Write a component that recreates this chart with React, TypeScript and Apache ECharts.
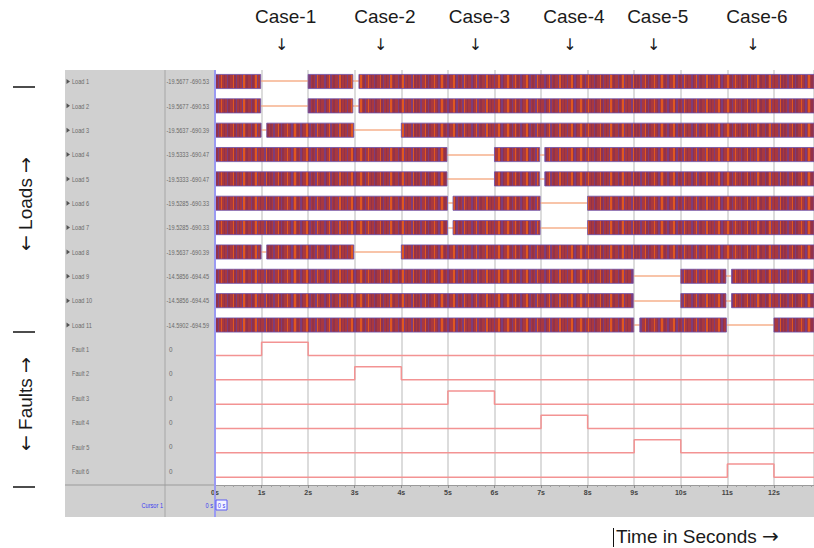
import React, { useEffect, useRef } from "react";
import * as echarts from "echarts";

// ---------- data ----------
const T_MAX = 12.86;

const loadNames = ["Load 1", "Load 2", "Load 3", "Load 4", "Load 5", "Load 6", "Load 7", "Load 8", "Load 9", "Load 10", "Load 11"];
const loadReadouts = [
  "-19.5677 -690.53",
  "-19.5677 -690.53",
  "-19.5637 -690.39",
  "-19.5333 -690.47",
  "-19.5333 -690.47",
  "-19.5285 -690.33",
  "-19.5285 -690.33",
  "-19.5637 -690.39",
  "-14.5856 -694.45",
  "-14.5856 -694.45",
  "-14.5902 -694.59",
];
// time intervals (s) during which each load is energised
const loadOnIntervals: number[][][] = [
  [[0, 0.98], [2.0, 2.96], [3.09, T_MAX]],
  [[0, 0.98], [2.0, 2.96], [3.09, T_MAX]],
  [[0, 0.99], [1.11, 2.98], [4.0, T_MAX]],
  [[0, 4.98], [6.0, 6.97], [7.08, T_MAX]],
  [[0, 4.98], [6.0, 6.97], [7.08, T_MAX]],
  [[0, 4.99], [5.11, 6.98], [8.0, T_MAX]],
  [[0, 4.99], [5.11, 6.98], [8.0, T_MAX]],
  [[0, 0.99], [1.11, 2.98], [4.0, T_MAX]],
  [[0, 8.98], [10.0, 10.97], [11.09, T_MAX]],
  [[0, 8.98], [10.0, 10.97], [11.09, T_MAX]],
  [[0, 8.99], [9.12, 10.98], [12.0, T_MAX]],
];

const faultNames = ["Fault 1", "Fault 2", "Fault 3", "Fault 4", "Faulr 5", "Fault 6"];
const faultReadouts = ["0", "0", "0", "0", "0", "0"];
const faultOnStart = [1, 3, 5, 7, 9, 11];
const faultOnEnd = [2, 4, 6, 8, 10, 12];

const caseNames = ["Case-1", "Case-2", "Case-3", "Case-4", "Case-5", "Case-6"];
const caseAt = [1.43, 3.56, 5.59, 7.62, 9.42, 11.55];

// ---------- layout ----------
const Y_MIN = -0.472;
const Y_MAX = 16.57;
const BAND_HALF = 0.29;
const FAULT_LOW = 0.25;
const FAULT_HIGH = -0.29;

const PLOT_L = 215;
const PLOT_T = 70;
const PLOT_W = 599;
const PLOT_H = 415;

const SMALL_FONT = "'Liberation Sans', Arial, sans-serif";
const BIG_FONT = "'Liberation Sans', Arial, 'DejaVu Sans', sans-serif";
const ARROW_FONT = "'DejaVu Sans', sans-serif";

function smallText(text: string, x: number, y: number, fill: string, align: string, extra: any = {}) {
  return {
    type: "text",
    silent: true,
    x,
    y,
    scaleX: 0.8,
    ...extra,
    style: {
      text, x: 0, y: 0, fill, fontSize: 7, fontFamily: SMALL_FONT,
      align, verticalAlign: "middle", textAlign: align, textVerticalAlign: "middle",
    },
  };
}

function bigText(text: string, x: number, y: number, align: string, font: string, size: number) {
  return {
    type: "text",
    silent: true,
    x,
    y,
    style: {
      text, x: 0, y: 0, fill: "#1a1a1a", fontSize: size, fontFamily: font,
      align, verticalAlign: "middle", textAlign: align, textVerticalAlign: "middle",
    },
  };
}

export default function App() {
  const ref = useRef<HTMLDivElement>(null);

  useEffect(() => {
    document.body.style.margin = "0";
    const chart = echarts.init(ref.current!, null, { renderer: "svg" });

    // band texture (style only)
    const motif = "RDPRORDRPDRRODPRDRPORDRRPDROPRDRRPODRDRPRRODPDRRO";
    const colors: Record<string, string> = { R: "#a8383f", P: "#7c3d7c", D: "#92324a", O: "#e0581f" };
    const unit = 1.5;
    const n = Math.ceil(PLOT_W / unit);
    const stops: { offset: number; color: string }[] = [];
    for (let k = 0; k < n; k++) {
      const c = colors[motif[k % motif.length]];
      stops.push({ offset: k / n, color: c }, { offset: (k + 1) / n, color: c });
    }
    const bandFill = new echarts.graphic.LinearGradient(PLOT_L, 0, PLOT_L + PLOT_W, 0, stops, true);

    const bandData: number[][] = [];
    const offData: number[][] = [];
    loadOnIntervals.forEach((ivs, i) => {
      ivs.forEach(([s, e], k) => {
        bandData.push([s, e, i]);
        if (k < ivs.length - 1) offData.push([e, ivs[k + 1][0], i]);
      });
    });

    const faultSeries = faultNames.map((name, j) => {
      const row = loadNames.length + j;
      const base = row + FAULT_LOW;
      const high = row + FAULT_HIGH;
      return {
        type: "line",
        name,
        silent: true,
        symbol: "none",
        lineStyle: { color: "#f39393", width: 1.5 },
        data: [
          [0, base],
          [faultOnStart[j], base],
          [faultOnStart[j], high],
          [faultOnEnd[j], high],
          [faultOnEnd[j], base],
          [T_MAX, base],
        ],
        z: 3,
      };
    });

    const labelRows = [
      ...loadNames.map((name, i) => ({ row: i, name, readout: loadReadouts[i], load: true })),
      ...faultNames.map((name, j) => ({ row: loadNames.length + j, name, readout: faultReadouts[j], load: false })),
    ];

    const option: any = {
      animation: false,
      backgroundColor: "#ffffff",
      grid: { left: PLOT_L, top: PLOT_T, width: PLOT_W, height: PLOT_H, show: false },
      xAxis: {
        type: "value",
        position: "bottom",
        min: 0,
        max: T_MAX,
        interval: 1,
        axisLine: { show: true, onZero: false, lineStyle: { color: "#9a9a9a", width: 1 } },
        axisTick: { show: true, length: 3, lineStyle: { color: "#8a8a8a" } },
        minorTick: { show: true, splitNumber: 5, length: 2, lineStyle: { color: "#a0a0a0" } },
        axisLabel: {
          formatter: (v: number) => `${v}s`,
          fontSize: 7,
          fontWeight: "bold",
          fontFamily: SMALL_FONT,
          color: "#444",
          margin: 4,
          showMaxLabel: false,
        },
        splitLine: { show: true, lineStyle: { color: "#dcdcdc", width: 2 } },
      },
      yAxis: { type: "value", inverse: true, min: Y_MIN, max: Y_MAX, show: false, axisLine: { onZero: false } },
      series: [
        {
          type: "custom",
          name: "off",
          silent: true,
          encode: { x: [0, 1], y: 2 },
          data: offData,
          z: 3,
          renderItem: (params: any, api: any) => {
            const s = api.value(0), e = api.value(1), row = api.value(2);
            const p0 = api.coord([s, row]);
            const p1 = api.coord([e, row]);
            const y = Math.round(p0[1]);
            return {
              type: "line",
              shape: { x1: p0[0], y1: y, x2: p1[0], y2: y },
              style: { stroke: "#f6b08c", lineWidth: 1.5 },
            };
          },
        },
        {
          type: "custom",
          name: "loads",
          silent: true,
          encode: { x: [0, 1], y: 2 },
          data: bandData,
          z: 4,
          renderItem: (params: any, api: any) => {
            const s = api.value(0), e = api.value(1), row = api.value(2);
            const p0 = api.coord([s, row - BAND_HALF]);
            const p1 = api.coord([e, row + BAND_HALF]);
            return {
              type: "rect",
              shape: { x: p0[0], y: p0[1], width: p1[0] - p0[0], height: p1[1] - p0[1] },
              style: { fill: bandFill, stroke: "#6d4fa8", lineWidth: 0.8 },
            };
          },
        },
        ...faultSeries,
        {
          type: "custom",
          name: "labels",
          silent: true,
          clip: false,
          encode: { x: 0, y: 1 },
          data: labelRows.map((r) => [0, r.row]),
          z: 5,
          renderItem: (params: any, api: any) => {
            const r = labelRows[params.dataIndex];
            const y = api.coord([0, r.row])[1];
            const children: any[] = [
              smallText(r.name, 72, y, "#6a6a6a", "left"),
              smallText(r.readout, r.load ? 166.5 : 169, y, "#6a6a6a", "left", { scaleX: r.load ? 0.8 : 0.9 }),
            ];
            if (r.load) {
              children.push({
                type: "polygon",
                shape: { points: [[66.5, y - 2.5], [70, y], [66.5, y + 2.5]] },
                style: { fill: "#555" },
              });
            }
            return { type: "group", children };
          },
        },
        {
          type: "custom",
          name: "cases",
          silent: true,
          clip: false,
          encode: { x: 0, y: 1 },
          data: caseAt.map((t) => [t, Y_MIN]),
          z: 5,
          renderItem: (params: any, api: any) => {
            const x = api.coord([api.value(0), Y_MIN])[0];
            return {
              type: "group",
              children: [
                bigText(caseNames[params.dataIndex], x + 4, 16, "center", BIG_FONT, 19),
                bigText("↓", x, 44, "center", ARROW_FONT, 16),
              ],
            };
          },
        },
      ],
      graphic: [
        { type: "rect", z: -20, silent: true, shape: { x: 65, y: 70, width: 749, height: 447 }, style: { fill: "#d0d0d0" } },
        { type: "rect", z: -19, silent: true, shape: { x: PLOT_L, y: PLOT_T, width: PLOT_W, height: PLOT_H }, style: { fill: "#ffffff" } },
        { type: "line", z: -18, silent: true, shape: { x1: 165, y1: 70, x2: 165, y2: 517 }, style: { stroke: "#a6a6a6", lineWidth: 1 } },
        { type: "line", z: -18, silent: true, shape: { x1: 65, y1: 485, x2: 215, y2: 485 }, style: { stroke: "#9a9a9a", lineWidth: 1 } },
        { type: "line", z: 100, silent: true, shape: { x1: 215, y1: 70, x2: 215, y2: 517 }, style: { stroke: "#9a9af2", lineWidth: 2 } },
        { ...smallText("Cursor 1", 163, 505, "#3c3cf0", "right"), z: 100 },
        { ...smallText("0 s", 213, 505, "#3c3cf0", "right"), z: 100 },
        { type: "rect", z: 100, silent: true, shape: { x: 216, y: 500, width: 11, height: 10 }, style: { fill: "#f2f2ff", stroke: "#5a5af5", lineWidth: 1 } },
        { ...smallText("0 s", 221.5, 505, "#3c3cf0", "center"), z: 101 },
        // left annotations
        { type: "line", silent: true, shape: { x1: 13, y1: 87, x2: 35, y2: 87 }, style: { stroke: "#111", lineWidth: 1.5 } },
        { type: "line", silent: true, shape: { x1: 13, y1: 332, x2: 35, y2: 332 }, style: { stroke: "#111", lineWidth: 1.5 } },
        { type: "line", silent: true, shape: { x1: 13, y1: 487, x2: 35, y2: 487 }, style: { stroke: "#111", lineWidth: 1.5 } },
        {
          type: "group", x: 25, y: 204, rotation: Math.PI / 2, silent: true,
          children: [
            bigText("Loads", 0, 0, "center", BIG_FONT, 19),
            bigText("←", -31, 0, "right", ARROW_FONT, 19),
            bigText("→", 31, 0, "left", ARROW_FONT, 19),
          ],
        },
        {
          type: "group", x: 25, y: 404, rotation: Math.PI / 2, silent: true,
          children: [
            bigText("Faults", 0, 0, "center", BIG_FONT, 19),
            bigText("←", -31, 0, "right", ARROW_FONT, 19),
            bigText("→", 31, 0, "left", ARROW_FONT, 19),
          ],
        },
        // bottom caption
        { type: "line", silent: true, shape: { x1: 613.5, y1: 528, x2: 613.5, y2: 547 }, style: { stroke: "#111", lineWidth: 1 } },
        {
          type: "text",
          silent: true,
          x: 616,
          y: 536,
          style: {
            text: "{t|Time in Seconds\u00a0}{a|→}",
            x: 0,
            y: 0,
            fill: "#1a1a1a",
            align: "left",
            verticalAlign: "middle",
            textAlign: "left",
            textVerticalAlign: "middle",
            rich: {
              t: { fontSize: 19, fontFamily: BIG_FONT, fill: "#1a1a1a", color: "#1a1a1a", verticalAlign: "middle", lineHeight: 20 },
              a: { fontSize: 20, fontFamily: ARROW_FONT, fill: "#1a1a1a", color: "#1a1a1a", verticalAlign: "middle", lineHeight: 20 },
            },
          },
        },
      ],
    };

    chart.setOption(option);
    return () => chart.dispose();
  }, []);

  return (
    <div
      ref={ref}
      style={{ width: 814, height: 548, position: "absolute", left: 0, top: 0, background: "#fff" }}
    />
  );
}
